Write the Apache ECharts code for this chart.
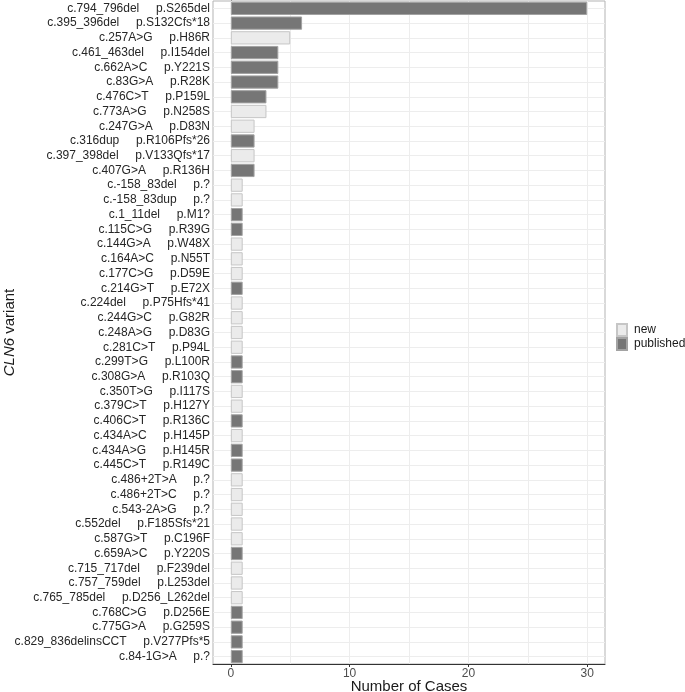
<!DOCTYPE html>
<html>
<head>
<meta charset="utf-8">
<script src="https://cdn.jsdelivr.net/npm/echarts@6/dist/echarts.min.js"></script>
<style>
  html, body { margin: 0; padding: 0; background: #fff; }
  #chart { width: 685px; height: 692px; }
</style>
</head>
<body>
<div id="chart"></div>
<script>
const cdna = [
  'c.794_796del','c.395_396del','c.257A>G','c.461_463del','c.662A>C','c.83G>A',
  'c.476C>T','c.773A>G','c.247G>A','c.316dup','c.397_398del','c.407G>A',
  'c.-158_83del','c.-158_83dup','c.1_11del','c.115C>G','c.144G>A','c.164A>C',
  'c.177C>G','c.214G>T','c.224del','c.244G>C','c.248A>G','c.281C>T',
  'c.299T>G','c.308G>A','c.350T>G','c.379C>T','c.406C>T','c.434A>C',
  'c.434A>G','c.445C>T','c.486+2T>A','c.486+2T>C','c.543-2A>G','c.552del',
  'c.587G>T','c.659A>C','c.715_717del','c.757_759del','c.765_785del','c.768C>G',
  'c.775G>A','c.829_836delinsCCT','c.84-1G>A'
];
const protein = [
  'p.S265del','p.S132Cfs*18','p.H86R','p.I154del','p.Y221S','p.R28K',
  'p.P159L','p.N258S','p.D83N','p.R106Pfs*26','p.V133Qfs*17','p.R136H',
  'p.?','p.?','p.M1?','p.R39G','p.W48X','p.N55T',
  'p.D59E','p.E72X','p.P75Hfs*41','p.G82R','p.D83G','p.P94L',
  'p.L100R','p.R103Q','p.I117S','p.H127Y','p.R136C','p.H145P',
  'p.H145R','p.R149C','p.?','p.?','p.?','p.F185Sfs*21',
  'p.C196F','p.Y220S','p.F239del','p.L253del','p.D256_L262del','p.D256E',
  'p.G259S','p.V277Pfs*5','p.?'
];
const cases = [
  30,6,5,4,4,4,
  3,3,2,2,2,2,
  1,1,1,1,1,1,
  1,1,1,1,1,1,
  1,1,1,1,1,1,
  1,1,1,1,1,1,
  1,1,1,1,1,1,
  1,1,1
];
const status = [
  'published','published','new','published','published','published',
  'published','new','new','published','new','published',
  'new','new','published','published','new','new',
  'new','published','new','new','new','new',
  'published','published','new','new','published','new',
  'published','published','new','new','new','new',
  'new','published','new','new','new','published',
  'published','published','published'
];
const xTicks = [0, 10, 20, 30];
const xGridLines = [0, 5, 10, 15, 20, 25, 30];
const legendNames = ['new', 'published'];

const labels = cdna.map((c, i) => c + '     ' + protein[i]);
const newData = cases.map((v, i) => status[i] === 'new' ? v : '-');
const pubData = cases.map((v, i) => status[i] === 'published' ? v : '-');

const gridLineStyle = { color: '#ededed', width: 1, type: 'solid' };
const FONT = 'Liberation Sans, Arial, sans-serif';

const chart = echarts.init(document.getElementById('chart'), null, { renderer: 'canvas' });
chart.setOption({
  animation: false,
  textStyle: { fontFamily: FONT },
  grid: {
    left: 213, right: 80, top: 1, bottom: 28,
    outerBoundsMode: 'none', containLabel: false,
    show: true, borderColor: '#b3b3b3', borderWidth: 1, backgroundColor: 'transparent'
  },
  legend: {
    data: legendNames,
    orient: 'vertical',
    left: 616, top: 323,
    padding: 0,
    itemWidth: 10, itemHeight: 12, itemGap: 0,
    icon: 'rect',
    textStyle: { fontSize: 12, color: '#1a1a1a', fontFamily: FONT, padding: [0, 0, 0, 2] },
    selectedMode: false
  },
  xAxis: {
    type: 'value', min: -1.5, max: 31.5,
    name: 'Number of Cases', nameLocation: 'middle', nameGap: 15, nameMoveOverlap: false,
    nameTextStyle: { fontSize: 15, color: '#1a1a1a' },
    axisLine: { show: true, lineStyle: { color: '#333', width: 1 } },
    axisTick: { show: true, length: 3, customValues: xTicks, lineStyle: { color: '#333' } },
    axisLabel: { customValues: xTicks, fontSize: 12, color: '#4d4d4d', margin: 4 },
    splitLine: { show: false }
  },
  yAxis: {
    type: 'category', data: labels, inverse: true,
    name: '{i|CLN6} variant', nameLocation: 'middle', nameGap: 196, nameRotate: 90,
    nameMoveOverlap: false,
    nameTextStyle: {
      fontSize: 15, color: '#1a1a1a',
      rich: { i: { fontStyle: 'italic', fontSize: 15, color: '#1a1a1a' } }
    },
    axisLine: { show: true, lineStyle: { color: '#333', width: 1 } },
    axisTick: { show: true, alignWithLabel: true, length: 3, lineStyle: { color: '#333' } },
    axisLabel: { fontSize: 12, color: '#262626', margin: 3, interval: 0 },
    splitLine: { show: false }
  },
  series: [
    {
      name: 'new', type: 'bar', stack: 'v', data: newData, barWidth: '90%',
      itemStyle: { color: '#ebebeb', borderColor: '#c6c6c6', borderWidth: 1 },
      z: 2,
      markLine: {
        z: 1, silent: true, symbol: 'none', animation: false,
        label: { show: false },
        lineStyle: gridLineStyle,
        emphasis: { disabled: true },
        data: labels.map(l => ({ yAxis: l })).concat(xGridLines.map(v => ({ xAxis: v })))
      }
    },
    {
      name: 'published', type: 'bar', stack: 'v', data: pubData, barWidth: '90%',
      itemStyle: { color: '#767676', borderColor: '#a3a3a3', borderWidth: 1 },
      z: 2
    }
  ]
});
</script>
</body>
</html>
